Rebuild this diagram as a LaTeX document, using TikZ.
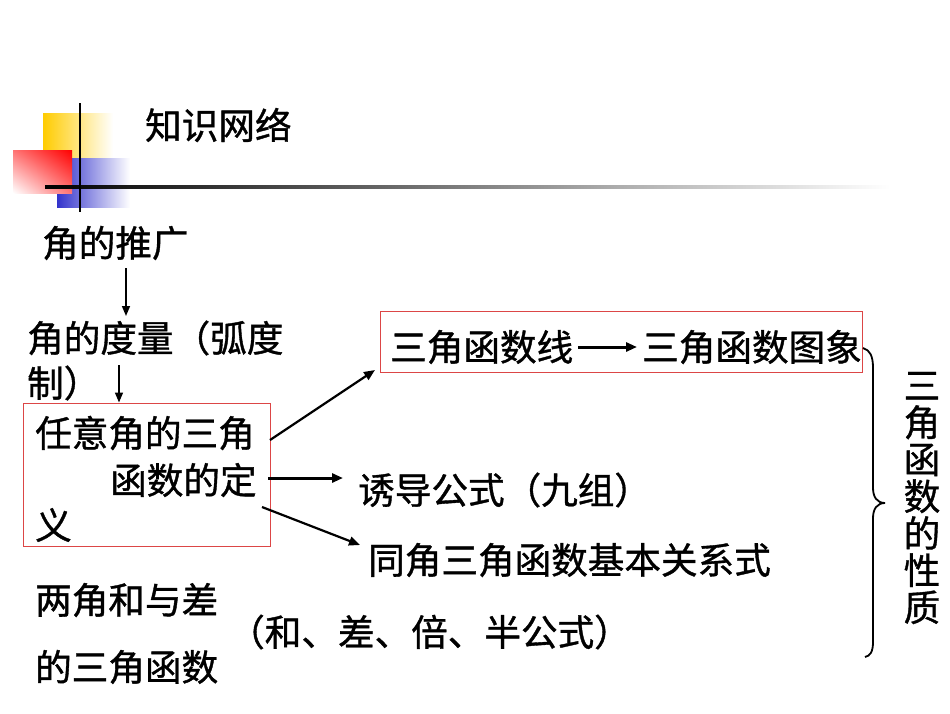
\documentclass[tikz,border=0pt]{standalone}
\usepackage{fontspec}
\newfontfamily\cjk[FakeBold=1]{Noto Sans CJK SC}
\usetikzlibrary{arrows.meta,shadings}
\definecolor{myyellow}{RGB}{255,204,0}
\definecolor{myblue}{RGB}{51,51,204}
\definecolor{myred}{RGB}{255,0,0}
\definecolor{boxred}{RGB}{220,70,70}
\begin{document}
\begin{tikzpicture}[x=1pt,y=-1pt,
  every node/.style={inner sep=0pt, font=\cjk\fontsize{36.6}{37}\selectfont},
  lbl/.style={anchor=west},
  redbox/.style={draw=boxred, line width=1pt},
  arr/.style={-{Triangle[length=11pt,width=9pt]}, line width=2.2pt},
  thinarr/.style={-{Triangle[length=10pt,width=8pt]}, line width=1.6pt}]
\fill[white] (0,0) rectangle (950,713);
\useasboundingbox (0,0) rectangle (950,713);
% decoration
\shade[left color=myyellow, middle color=myyellow, right color=white] (43,113) rectangle (113,187);
\shade[left color=myblue, middle color=myblue, right color=white] (57,158) rectangle (130,207);
\shade[upper right=myred, lower left=white, upper left=myred!55!white, lower right=myred!55!white] (13,150) rectangle (72,193);
\shade[left color=black, middle color=black!80, right color=white] (45,185.5) rectangle (890,188.5);
\draw[line width=2pt] (80,103) -- (80,212);
\node[lbl] (title) at (145,125) {知识网络};
% left column
\node[lbl] (tuiguang) at (42,243) {角的推广};
\node[lbl] (duliang1) at (27,338) {角的度量（弧度};
\node[lbl] (duliang2) at (27,383) {制）};
\node[redbox, minimum width=247pt, minimum height=143pt] (box1) at (146.5,474.5) {};
\node[lbl] (d1) at (35,433) {任意角的三角};
\node[lbl] (d2) at (110,480) {函数的定};
\node[lbl] (d3) at (35,525) {义};
\coordinate (a1s) at (126,268);
\coordinate (a1e) at (126,316);
\draw[thinarr] (a1s) -- (a1e);
\coordinate (a2s) at (119,365);
\draw[thinarr] (a2s) -- (box1.north -| a2s);
% box 2
\node[redbox, minimum width=482pt, minimum height=61pt] (box2) at (621,341.5) {};
\node[lbl] (l1) at (390,347) {三角函数线};
\node[lbl] (l2) at (642,347) {三角函数图象};
\draw[arr, line width=3pt] (l1.east) ++(5,0) coordinate (b2s) -- ([xshift=-5pt]l2.west |- b2s);
% right items
\node[lbl] (youdao) at (358,490) {诱导公式（九组）};
\node[lbl] (tongjiao) at (368,560) {同角三角函数基本关系式};
\node[lbl] (liangjiao1) at (35,600) {两角和与差};
\node[lbl] (liangjiao2) at (228,632) {（和、差、倍、半公式）};
\node[lbl] (liangjiao3) at (35,667) {的三角函数};
% arrows from box1
\coordinate (o1) at (270,440);
\coordinate (e1) at (375,370);
\draw[arr] (o1) -- (e1);
\coordinate (o2) at (268,478);
\draw[arr, line width=3pt] (o2) -- ([xshift=-15pt]youdao.west |- o2);
\coordinate (o3) at (262,507);
\coordinate (e3) at (360,545);
\draw[arr] (o3) -- (e3);
% brace
\draw[line width=1.8pt] (863,348) .. controls (870,350) and (873,356) .. (873,368) -- (873,488) .. controls (873,497) and (877,503) .. (885,503) .. controls (877,503) and (873,509) .. (873,518) -- (873,642) .. controls (873,652) and (870,656) .. (865,657);
\node[align=center] (xingzhi) at (922,498) {三\\角\\函\\数\\的\\性\\质};
\end{tikzpicture}
\end{document}
